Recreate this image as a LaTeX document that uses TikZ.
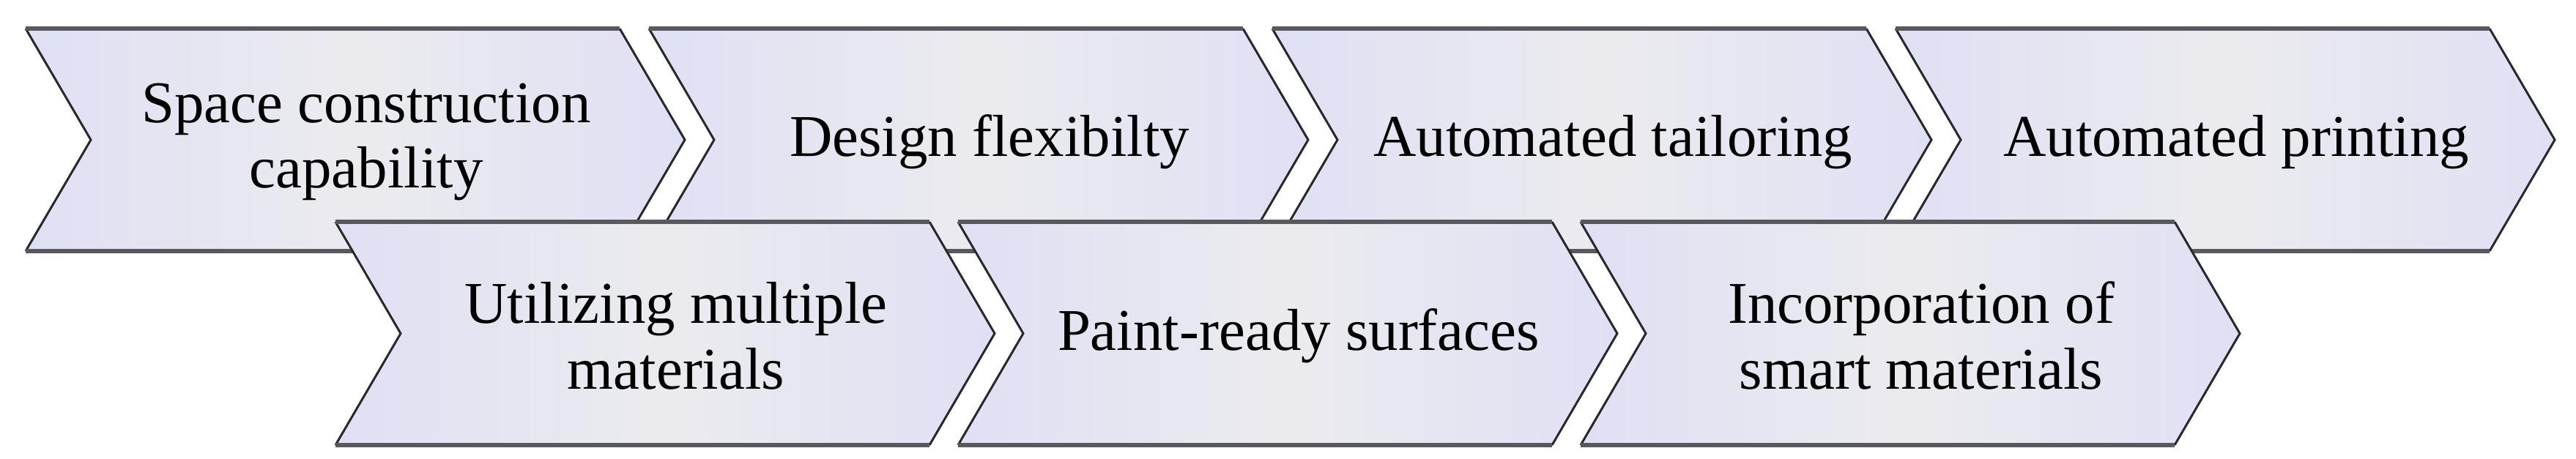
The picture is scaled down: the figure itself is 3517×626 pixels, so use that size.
\documentclass[tikz,border=0pt]{standalone}
\usepackage{fontspec}
\setmainfont{Liberation Serif}
\definecolor{lavc}{RGB}{224,224,245}
\definecolor{midc}{RGB}{235,235,239}
\definecolor{edgec}{RGB}{40,40,44}
\definecolor{tbc}{RGB}{88,88,94}
\tikzset{
  chevfill/.style={left color=lavc, right color=lavc, middle color=midc},
  sidel/.style={draw=edgec, line width=0.85pt, line join=miter},
  topl/.style={draw=tbc, line width=1.6pt},
  lbl/.style={align=center, inner sep=0pt, font=\fontsize{23}{25.5}\selectfont, text=black}
}
\newcommand\chevron[5]{%
  \path[chevfill] (#2,#3) -- ({#2+811},#3) -- ({#2+900},{#3+#4/2}) -- ({#2+811},{#3+#4}) -- (#2,{#3+#4}) -- ({#2+89},{#3+#4/2}) -- cycle;
  \draw[sidel] ({#2+811},#3) -- ({#2+900},{#3+#4/2}) -- ({#2+811},{#3+#4});
  \draw[sidel] (#2,#3) -- ({#2+89},{#3+#4/2}) -- (#2,{#3+#4});
  \draw[topl] (#2,#3) -- ({#2+811},#3);
  \draw[topl] (#2,{#3+#4}) -- ({#2+811},{#3+#4});
  \node[lbl] (#1) at ({#2+465},{#3+#4/2+3}) {#5};
}
\begin{document}
\begin{tikzpicture}[x=0.01cm, y=-0.01cm]
\useasboundingbox (0,0) rectangle (3517,626);
\chevron{c1}{35}{39}{304}{Space construction\\capability}
\chevron{c2}{886}{39}{304}{Design flexibilty}
\chevron{c3}{1737}{39}{304}{Automated tailoring}
\chevron{c4}{2588}{39}{304}{Automated printing}
\chevron{c5}{458}{303}{305}{Utilizing multiple\\materials}
\chevron{c6}{1308}{303}{305}{Paint-ready surfaces}
\chevron{c7}{2158}{303}{305}{Incorporation of\\smart materials}
\end{tikzpicture}
\end{document}
